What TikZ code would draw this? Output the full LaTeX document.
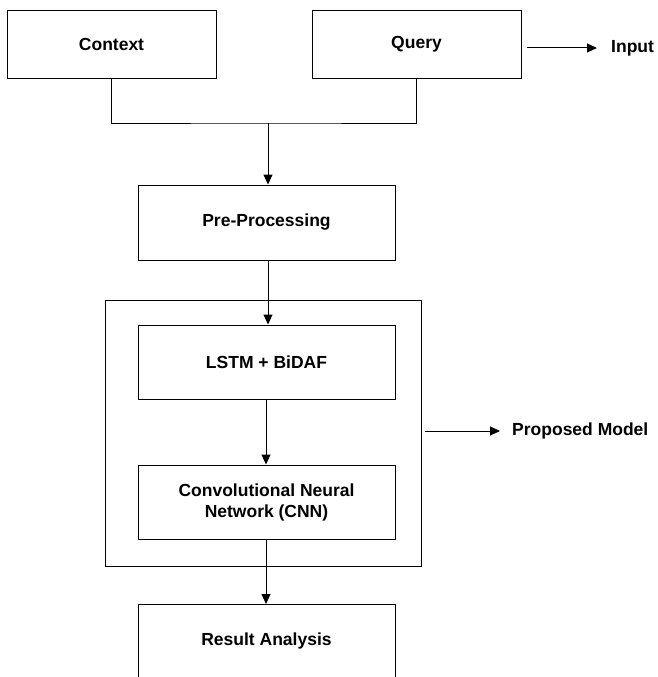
\documentclass[tikz,border=0pt]{standalone}
\usepackage{fontspec}
\setmainfont{Liberation Sans}
\usetikzlibrary{arrows.meta}
\begin{document}
\begin{tikzpicture}[x=1pt,y=-1pt,
  box/.style={draw, line width=1pt, inner sep=0pt, align=center, font=\bfseries\fontsize{17.5}{21}\selectfont},
  lbl/.style={anchor=west, inner sep=0pt, font=\bfseries\fontsize{17.5}{21}\selectfont},
  conn/.style={line width=1pt},
  arr/.style={line width=1pt, -{Triangle[length=10pt,width=9pt]}}]
\useasboundingbox (0,0) rectangle (657,677);
\node[box, minimum width=209pt, minimum height=67pt] (context) at (111.5,44.5) {Context};
\node[box, minimum width=209pt, minimum height=67pt] (query) at (416.5,44.5) {Query};
\node[lbl] (input) at (611,48) {Input};
\node[box, minimum width=257pt, minimum height=75pt] (pre) at (266.5,222.5) {Pre-Processing};
\node[draw, line width=1pt, minimum width=316pt, minimum height=266pt, inner sep=0pt] (outer) at (263,433) {};
\node[box, minimum width=257pt, minimum height=74pt] (lstm) at (266.5,362) {LSTM + BiDAF};
\node[box, minimum width=257pt, minimum height=74pt] (cnn) at (266.5,502) {Convolutional Neural\\Network (CNN)};
\node[box, minimum width=257pt, minimum height=100pt, anchor=north] (result) at (266.5,604) {};
\node[font=\bfseries\fontsize{17.5}{21}\selectfont] (restext) at (266.5,641) {Result Analysis};
\node[lbl] (pm) at (512,431) {Proposed Model};
\coordinate (j) at (268,123);
\draw[conn] (context.south) |- (j) -| (query.south);
\draw[arr] (j) -- (pre.north -| j);
\draw[arr] (pre.south -| j) -- (lstm.north -| j);
\draw[arr] (lstm.south -| 266,0) -- (cnn.north -| 266,0);
\draw[arr] (cnn.south -| 266,0) -- (result.north -| 266,0);
\draw[arr] ([xshift=5pt]query.east |- input.west) -- ([xshift=-14pt]input.west);
\draw[arr] ([xshift=3pt]outer.east |- pm.west) -- ([xshift=-12pt]pm.west);
\end{tikzpicture}
\end{document}
